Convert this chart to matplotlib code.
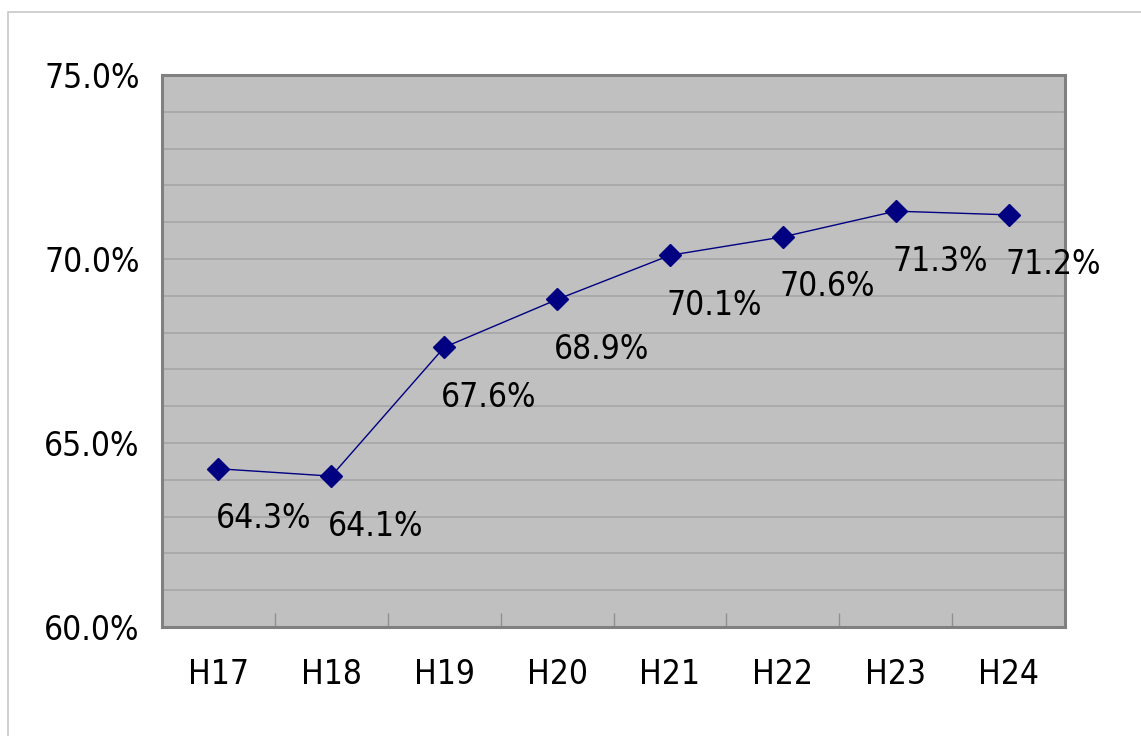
import matplotlib.pyplot as plt
from matplotlib.patches import Rectangle

years = ["H17", "H18", "H19", "H20", "H21", "H22", "H23", "H24"]
rates = [64.3, 64.1, 67.6, 68.9, 70.1, 70.6, 71.3, 71.2]

plt.rcParams['font.family'] = ['DejaVu Sans']
plt.rcParams['font.stretch'] = 'condensed'

fig = plt.figure(figsize=(11.41, 7.36), dpi=100)
fig.patches.append(Rectangle((8/1141, -0.2), 1.2, 1.2 - 12/736, transform=fig.transFigure,
                             fill=False, edgecolor='#c8c8c8', linewidth=1.2))
ax = fig.add_axes([162/1141, 109/736, 903/1141, 552/736])
ax.set_facecolor('#c0c0c0')

x = list(range(len(years)))
ax.plot(x, rates, color='#000080', linewidth=1, marker='D', markersize=11,
        markerfacecolor='#000080', markeredgecolor='#000080', zorder=3)

for xi, v in zip(x, rates):
    ax.annotate(f"{v:.1f}%", (xi, v), xytext=(-3, -50), textcoords='offset pixels',
                ha='left', va='center', fontsize=24, color='black', annotation_clip=False)

ax.set_xlim(-0.5, len(years) - 0.5)
ax.set_ylim(60, 75)
ax.set_yticks([60, 65, 70, 75])
ax.set_yticklabels([f"{t:.1f}%" for t in [60, 65, 70, 75]])
ax.set_yticks(range(60, 76), minor=True)
ax.yaxis.grid(True, which='both', color='#a6a6a6', linewidth=1.2)
ax.set_axisbelow(True)

ax.set_xticks(x)
ax.set_xticklabels(years)
ax.set_xticks([i + 0.5 for i in x[:-1]], minor=True)
ax.tick_params(axis='x', which='major', length=0, pad=22, labelsize=24)
ax.tick_params(axis='x', which='minor', direction='in', length=10, color='#909090', width=1)
ax.tick_params(axis='y', which='both', length=0, pad=16, labelsize=24)

for s in ax.spines.values():
    s.set_color('#808080')
    s.set_linewidth(2.2)

fig.savefig('out.png', dpi=100)
